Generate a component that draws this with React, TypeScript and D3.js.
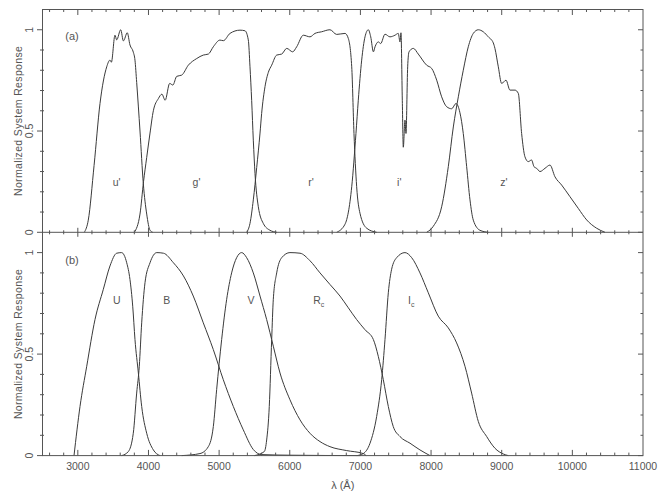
import React from "react";
import * as d3 from "d3";

type Pt = [number, number];

// Panel (a): SDSS u' g' r' i' z'
const uPrime: Pt[] = [
  [3092, 0], [3148, 0.06], [3230, 0.33], [3314, 0.636], [3409, 0.817], [3455, 0.85], [3475, 0.84],
  [3526, 0.973], [3550, 0.95], [3607, 1.0], [3645, 0.945], [3700, 0.985], [3738, 0.925],
  [3785, 0.89], [3809, 0.85], [3833, 0.74], [3880, 0.5], [3927, 0.24], [3975, 0.09], [4022, 0.01], [4060, 0],
];
const gPrime: Pt[] = [
  [3800, 0], [3880, 0.09], [3930, 0.25], [3975, 0.37], [4022, 0.49], [4069, 0.6], [4140, 0.66],
  [4190, 0.682], [4236, 0.652], [4300, 0.735], [4345, 0.727], [4400, 0.77], [4470, 0.776], [4564, 0.825],
  [4683, 0.858], [4776, 0.875], [4848, 0.88], [4918, 0.916], [5012, 0.949], [5060, 0.946],
  [5154, 0.982], [5295, 0.998], [5366, 0.995], [5413, 0.95], [5437, 0.817], [5461, 0.65],
  [5484, 0.455], [5508, 0.29], [5555, 0.126], [5625, 0.044], [5720, 0.01], [5815, 0],
];
const rPrime: Pt[] = [
  [5390, 0], [5437, 0.044], [5484, 0.16], [5532, 0.32], [5579, 0.49], [5602, 0.587], [5650, 0.72],
  [5697, 0.79], [5744, 0.825], [5815, 0.875], [5886, 0.88], [5957, 0.908], [6041, 0.891],
  [6098, 0.916], [6192, 0.973], [6286, 0.965], [6357, 0.982], [6451, 0.99], [6569, 1.0],
  [6664, 0.977], [6782, 0.982], [6829, 0.957], [6877, 0.817], [6909, 0.488], [6947, 0.225],
  [6994, 0.094], [7089, 0.02], [7230, 0],
];
const iPrime: Pt[] = [
  [6664, 0], [6782, 0.04], [6877, 0.225], [6937, 0.488], [6970, 0.652], [7018, 0.85], [7065, 0.965],
  [7112, 1.0], [7146, 0.965], [7184, 0.891], [7207, 0.916], [7253, 0.94], [7287, 0.932],
  [7348, 0.978], [7418, 0.965], [7489, 0.973], [7536, 0.982], [7560, 0.94], [7574, 0.985],
  [7593, 0.652], [7607, 0.42], [7631, 0.554], [7645, 0.488], [7669, 0.817], [7688, 0.891],
  [7749, 0.908], [7819, 0.88], [7938, 0.825], [8009, 0.809], [8080, 0.751], [8150, 0.669],
  [8221, 0.62], [8292, 0.61], [8353, 0.636], [8409, 0.59], [8456, 0.488], [8504, 0.324],
  [8551, 0.16], [8598, 0.06], [8692, 0.01], [8810, 0],
];
const zPrime: Pt[] = [
  [7938, 0], [8032, 0.03], [8150, 0.126], [8244, 0.324], [8315, 0.52], [8386, 0.669], [8456, 0.8],
  [8527, 0.916], [8598, 0.982], [8669, 1.0], [8739, 0.99], [8810, 0.965], [8881, 0.935],
  [8904, 0.908], [8952, 0.817], [8999, 0.735], [9061, 0.751], [9117, 0.702], [9188, 0.702],
  [9235, 0.686], [9282, 0.488], [9329, 0.373], [9376, 0.349], [9423, 0.357], [9457, 0.324],
  [9494, 0.316], [9542, 0.3], [9613, 0.316], [9683, 0.332], [9754, 0.274], [9849, 0.233],
  [9966, 0.176], [10084, 0.118], [10203, 0.061], [10344, 0.02], [10462, 0],
];

// Panel (b): Johnson-Cousins U B V Rc Ic
const uJ: Pt[] = [
  [2946, 0], [3031, 0.242], [3126, 0.44], [3243, 0.67], [3361, 0.819], [3455, 0.934], [3550, 0.997],
  [3620, 1.0], [3692, 0.95], [3738, 0.868], [3777, 0.736], [3809, 0.572], [3857, 0.407],
  [3904, 0.242], [3975, 0.11], [4069, 0.028], [4163, 0],
];
const bJ: Pt[] = [
  [3621, 0], [3715, 0.02], [3785, 0.11], [3833, 0.308], [3870, 0.44], [3904, 0.654], [3951, 0.852],
  [4022, 0.95], [4118, 1.0], [4212, 0.997], [4353, 0.95], [4495, 0.885], [4634, 0.786],
  [4776, 0.654], [4918, 0.522], [5059, 0.374], [5201, 0.242], [5342, 0.127], [5484, 0.03],
  [5600, 0.005], [6000, 0.002], [7000, 0],
];
const vJ: Pt[] = [
  [4470, 0], [4729, 0.01], [4847, 0.044], [4918, 0.143], [4965, 0.325], [5036, 0.572], [5107, 0.77],
  [5177, 0.9], [5248, 0.975], [5319, 1.0], [5390, 0.975], [5484, 0.9], [5579, 0.786],
  [5673, 0.67], [5767, 0.539], [5862, 0.407], [6003, 0.275], [6145, 0.176], [6286, 0.11],
  [6428, 0.069], [6569, 0.044], [6800, 0.025], [7040, 0.01], [7080, 0],
];
const rcJ: Pt[] = [
  [5500, 0], [5640, 0.02], [5673, 0.077], [5710, 0.242], [5744, 0.572], [5767, 0.77], [5815, 0.9],
  [5886, 0.975], [6003, 1.0], [6145, 0.997], [6286, 0.96], [6428, 0.9], [6569, 0.843],
  [6711, 0.786], [6829, 0.728], [6947, 0.67], [7065, 0.62], [7183, 0.572], [7253, 0.489],
  [7324, 0.374], [7395, 0.242], [7465, 0.143], [7560, 0.094], [7702, 0.061], [7843, 0.028], [7985, 0],
];
const icJ: Pt[] = [
  [6950, 0], [7041, 0.01], [7136, 0.061], [7230, 0.193], [7301, 0.374], [7348, 0.572], [7395, 0.802],
  [7442, 0.918], [7513, 0.975], [7631, 1.0], [7726, 0.975], [7843, 0.9], [7961, 0.802],
  [8102, 0.687], [8244, 0.629], [8362, 0.555], [8480, 0.44], [8574, 0.308], [8669, 0.168],
  [8787, 0.094], [8905, 0.036], [9022, 0.008], [9093, 0],
];

const topCurves = [uPrime, gPrime, rPrime, iPrime, zPrime];
const bottomCurves = [uJ, bJ, vJ, rcJ, icJ];

const topLabels = ["u'", "g'", "r'", "i'", "z'"];
const topLabelX = [3550, 4680, 6300, 7550, 9030];
const bottomLabels = ["U", "B", "V", "R", "I"];
const bottomSubs = ["", "", "", "c", "c"];
const bottomLabelX = [3550, 4260, 5450, 6410, 7720];

const xTickLabels = [3000, 4000, 5000, 6000, 7000, 8000, 9000, 10000, 11000];
const yTickLabels = [0, 0.5, 1];

const W = 660;
const H = 493;
const L = 42.5, R = 643;
const TOP = 9.5, MID = 232.3, BOT = 455.6;

const FONT = "'Liberation Sans', Arial, sans-serif";
const INK = "#3a3a3a";
const TXT = "#555";

export default function App() {
  const x = d3.scaleLinear().domain([2500, 11000]).range([L, R]);
  const yTop = d3.scaleLinear().domain([0, 1.1]).range([MID, TOP]);
  const yBot = d3.scaleLinear().domain([0, 1.1]).range([BOT, MID]);

  const lineFor = (y: d3.ScaleLinear<number, number>) =>
    d3.line<Pt>().x((d) => x(d[0])).y((d) => y(d[1])).curve(d3.curveMonotoneX);

  const minorX = d3.range(2600, 11000, 200);
  const minorY = d3.range(0, 1.05, 0.1);

  const ticks: React.ReactNode[] = [];
  let k = 0;
  minorX.forEach((v) => {
    const major = Math.abs(v % 1000) < 1e-6;
    const px = x(v);
    const ml = major ? 5.5 : 2.5;
    ticks.push(<line key={k++} x1={px} x2={px} y1={TOP} y2={TOP + ml} />);
    ticks.push(<line key={k++} x1={px} x2={px} y1={MID - (major ? 4.5 : 2)} y2={MID + (major ? 4.5 : 2)} />);
    ticks.push(<line key={k++} x1={px} x2={px} y1={BOT} y2={BOT - (major ? 5.7 : 3)} />);
  });
  [yTop, yBot].forEach((y) => {
    minorY.forEach((v) => {
      const major = Math.abs(v - 0) < 1e-6 || Math.abs(v - 0.5) < 1e-6 || Math.abs(v - 1) < 1e-6;
      const py = y(v);
      ticks.push(<line key={k++} x1={major ? L - 5.5 : L - 2.5} x2={major ? L : L + 1.5} y1={py} y2={py} />);
      ticks.push(<line key={k++} x1={R} x2={R - (major ? 5 : 2.5)} y1={py} y2={py} />);
    });
  });

  const yLabels = (y: d3.ScaleLinear<number, number>, key: string) =>
    yTickLabels.map((v) => (
      <text
        key={key + v}
        transform={`translate(${L - 10},${y(v)}) rotate(-90)`}
        textAnchor="middle"
        fontSize={10.5}
      >
        {String(v)}
      </text>
    ));

  const yTitle = (cy: number) => (
    <text transform={`translate(22,${cy}) rotate(-90)`} textAnchor="middle" fontSize={10.5} letterSpacing={0.35}>
      Normalized System Response
    </text>
  );

  return (
    <svg
      width={W}
      height={H}
      style={{ position: "absolute", left: 0, top: 0, background: "#fff" }}
      fontFamily={FONT}
    >
      <rect x={0} y={0} width={W} height={H} fill="#fff" />
      <g fill="none" stroke={INK} strokeWidth={1}>
        {topCurves.map((c, i) => (
          <path key={"t" + i} d={lineFor(yTop)(c) || ""} />
        ))}
        {bottomCurves.map((c, i) => (
          <path key={"b" + i} d={lineFor(yBot)(c) || ""} />
        ))}
      </g>
      <g stroke="#555" strokeWidth={1} fill="none">
        <rect x={L} y={TOP} width={R - L} height={BOT - TOP} />
        <line x1={L} x2={R} y1={MID} y2={MID} />
        {ticks}
      </g>
      <g fill={TXT}>
        {yLabels(yTop, "t")}
        {yLabels(yBot, "b")}
        {yTitle((TOP + MID) / 2)}
        {yTitle((MID + BOT) / 2)}
        {xTickLabels.map((v) => (
          <text key={v} x={x(v)} y={BOT + 14} textAnchor="middle" fontSize={10.5}>
            {v}
          </text>
        ))}
        <text x={(L + R) / 2} y={BOT + 33} textAnchor="middle" fontSize={11}>
          λ (Å)
        </text>
        <text x={72} y={40} textAnchor="middle" fontSize={11}>(a)</text>
        <text x={72} y={264} textAnchor="middle" fontSize={11}>(b)</text>
        {topLabels.map((t, i) => (
          <text key={t} x={x(topLabelX[i])} y={yTop(0.25) + 4} textAnchor="middle" fontSize={10.5}>
            {t}
          </text>
        ))}
        {bottomLabels.map((t, i) => (
          <text key={t} x={x(bottomLabelX[i])} y={yBot(0.765) + 4} textAnchor="middle" fontSize={10.5}>
            {t}
            {bottomSubs[i] ? (
              <tspan fontSize={7} dy={3}>{bottomSubs[i]}</tspan>
            ) : null}
          </text>
        ))}
      </g>
    </svg>
  );
}
